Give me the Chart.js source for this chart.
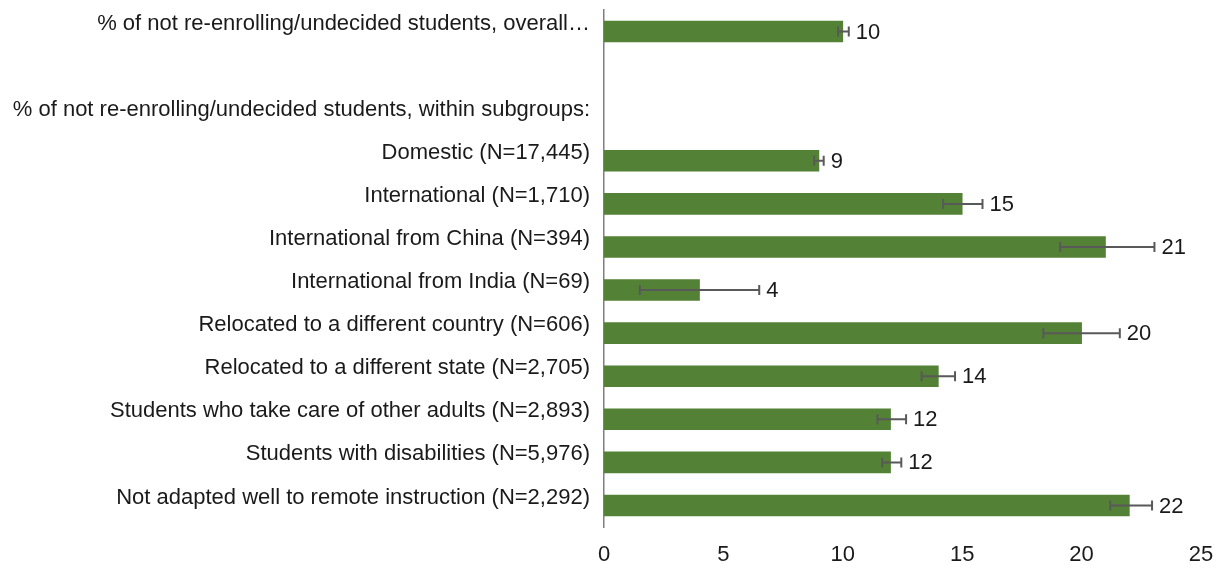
<!DOCTYPE html>
<html>
<head>
<meta charset="utf-8">
<script src="https://cdn.jsdelivr.net/npm/chart.js@4"></script>
<style>
  html,body{margin:0;padding:0;background:#fff;}
  #wrap{width:1227px;height:570px;position:relative;}
</style>
</head>
<body>
<div id="wrap"><canvas id="chart"></canvas></div>
<script>
// categories (top to bottom), null rows are spacer / header rows
const categories = [
  '% of not re-enrolling/undecided students, overall\u2026',
  '',
  '% of not re-enrolling/undecided students, within subgroups:',
  'Domestic (N=17,445)',
  'International (N=1,710)',
  'International from China (N=394)',
  'International from India (N=69)',
  'Relocated to a different country (N=606)',
  'Relocated to a different state (N=2,705)',
  'Students who take care of other adults (N=2,893)',
  'Students with disabilities (N=5,976)',
  'Not adapted well to remote instruction (N=2,292)'
];
const values   = [10, null, null, 9, 15, 21, 4, 20, 14, 12, 12, 22];
const errLow   = [9.8, null, null, 8.8, 14.2, 19.1, 1.5, 18.4, 13.3, 11.45, 11.65, 21.2];
const errHigh  = [10.25, null, null, 9.2, 15.85, 23.05, 6.5, 21.6, 14.7, 12.65, 12.45, 22.95];
const xTicks   = [0, 5, 10, 15, 20, 25];

const barColor = '#538135';
const errColor = '#595959';
const textColor = '#1a1a1a';
const fontFamily = '"Liberation Sans", Arial, sans-serif';

// draw error bars + value labels
const errorBarPlugin = {
  id: 'errorBars',
  afterDatasetsDraw(chart){
    const ctx = chart.ctx;
    const xs = chart.scales.x, ys = chart.scales.y;
    ctx.save();
    values.forEach((v,i)=>{
      if(v===null) return;
      const y = ys.getPixelForValue(i);
      const x1 = xs.getPixelForValue(errLow[i]);
      const x2 = xs.getPixelForValue(errHigh[i]);
      ctx.strokeStyle = errColor;
      ctx.lineWidth = 2;
      ctx.beginPath();
      ctx.moveTo(x1,y); ctx.lineTo(x2,y);
      ctx.moveTo(x1,y-5); ctx.lineTo(x1,y+5);
      ctx.moveTo(x2,y-5); ctx.lineTo(x2,y+5);
      ctx.stroke();
      ctx.fillStyle = textColor;
      ctx.font = '22px ' + fontFamily;
      ctx.textAlign = 'left';
      ctx.textBaseline = 'middle';
      ctx.fillText(String(v), x2+7, y+1);
    });
    ctx.restore();
  }
};

new Chart(document.getElementById('chart'), {
  type: 'bar',
  data: {
    labels: categories,
    datasets: [{
      data: values,
      backgroundColor: barColor,
      borderWidth: 0,
      barThickness: 21
    }]
  },
  options: {
    indexAxis: 'y',
    responsive: true,
    maintainAspectRatio: false,
    animation: false,
    layout: { padding: { top: 10, right: 26, bottom: 0, left: 0 } },
    plugins: { legend: { display: false }, tooltip: { enabled: false } },
    scales: {
      x: {
        min: 0, max: 25,
        afterBuildTicks: s => { s.ticks = xTicks.map(v=>({value:v})); },
        afterFit: s => { s.height = 43; s.paddingLeft = 0; s.paddingRight = 0; },
        grid: { display: false, drawTicks: false },
        border: { display: false },
        ticks: {
          color: textColor,
          padding: 15,
          font: { family: fontFamily, size: 22 }
        }
      },
      y: {
        afterFit: s => { s.width = 604; s.paddingTop = 0; s.paddingBottom = 0; },
        grid: { display: false, drawTicks: false },
        border: { display: true, color: '#7f7f7f', width: 1.5 },
        ticks: {
          color: textColor,
          padding: 14,
          labelOffset: -8,
          autoSkip: false,
          font: { family: fontFamily, size: 22 }
        }
      }
    }
  },
  plugins: [errorBarPlugin]
});
</script>
</body>
</html>
